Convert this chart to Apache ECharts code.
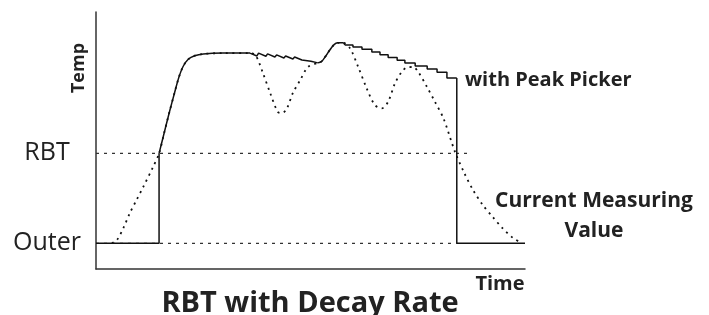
<!DOCTYPE html>
<html>
<head>
<meta charset="utf-8">
<title>RBT with Decay Rate</title>
<script src="https://cdn.jsdelivr.net/npm/echarts@6/dist/echarts.min.js"></script>
<style>
  html, body { margin: 0; padding: 0; background: #fff; }
  #main { width: 709px; height: 315px; }
</style>
</head>
<body>
<div id="main"></div>
<script>
// levels on the temp axis (0..100) and time axis (0..100)
var outerLevel = 10;
var rbtLevel = 45;
var yLabels = { 10: 'Outer', 45: 'RBT' };

// peak picker (solid line), split into pieces
var peakStepUp = [[0, 10], [14.7, 10], [14.7, 45]];
var peakRise = [[14.7, 45], [15.9, 53], [17.1, 61], [18.3, 68.5], [19.3, 74.5], [20.3, 78.8], [21.5, 81.6],
  [23, 83], [25, 83.7], [29.6, 84], [35.9, 84]];
var peakSaw = [[35.9, 84], [37.5, 82.9], [37.9, 84.0], [39.6, 82.8], [40.0, 83.7], [41.7, 82.5], [42.1, 83.3],
  [43.8, 82.1], [44.2, 82.9], [45.9, 81.7], [46.3, 82.5], [48.0, 81.3], [48.4, 82.0], [50.1, 80.8],
  [50.5, 81.4], [51.7, 80.2]];
var peakBump = [[51.7, 80.2], [52.6, 80.8], [53.4, 82.5], [54.5, 85.2], [55.5, 87.3], [56.3, 88],
  [57.6, 88], [58.0, 87.2]];
var peakStairs = [[58.0, 87.2], [59.9, 86.4], [62.0, 85.5], [64.3, 84.4], [66.2, 83.4], [68.1, 82.3],
  [70.2, 81.2], [72.0, 80.2], [74.4, 79.0], [77.2, 77.8], [79.5, 76.6], [81.8, 74.3], [84.1, 74.3]];
var peakDrop = [[84.1, 74.3], [84.1, 10], [100, 10]];

// current measuring value (dotted line)
var current = [[3.7, 10], [4.9, 11.3], [6.4, 16], [7.9, 21.8], [9.5, 27], [11.0, 31.9], [13.3, 39.7],
  [14.7, 45], [15.9, 53], [17.1, 61], [18.3, 68.5], [19.3, 74.5], [20.3, 78.8], [21.5, 81.6], [23, 83],
  [25, 83.7], [29.6, 84], [35.9, 84], [37.2, 83.2], [38.9, 76.3], [40.6, 68.5], [42.4, 61.1], [43.4, 60.7],
  [44.5, 62.5], [45.9, 68.5], [47.6, 73.5], [49.4, 78.6], [51.7, 80.2], [52.6, 80.8], [53.4, 82.5],
  [54.5, 85.2], [55.5, 87.3], [56.3, 88], [57.6, 88], [59.2, 85.9], [61.1, 78.7], [63.1, 70.3],
  [65.0, 63.8], [66.6, 62.5], [68.1, 65.1], [69.7, 72.3], [71.3, 76.8], [72.4, 78.4], [73.9, 78.6],
  [75.1, 76.7], [77.1, 71], [79, 65.1], [81, 58.6], [83.7, 45.5], [85.8, 37.5], [87.9, 30.7],
  [90.2, 24.8], [92.5, 20.2], [94.8, 15.8], [97.2, 12.1], [98.8, 10.5]];

// dotted reference lines
var rbtLine = [[0, rbtLevel], [87.6, rbtLevel]];
var outerLine = [[0, outerLevel], [84.1, outerLevel]];

var font = '"Open Sans", "Noto Sans", sans-serif';
var solid = { color: '#111', width: 1.5 };

function solidSeries(data, opts) {
  var s = { type: 'line', data: data, symbol: 'none', lineStyle: solid, z: 3 };
  for (var k in opts) s[k] = opts[k];
  return s;
}

var chart = echarts.init(document.getElementById('main'));
chart.setOption({
  animation: false,
  backgroundColor: '#fff',
  title: {
    text: 'RBT with Decay Rate',
    left: 305, textAlign: 'center', top: 284,
    textStyle: { fontFamily: font, fontWeight: 'bold', fontSize: 29, color: '#222' }
  },
  grid: { left: 96, right: 184, top: 12, bottom: 46 },
  xAxis: {
    type: 'value', min: 0, max: 100,
    axisLine: { lineStyle: { color: '#333', width: 1.5 } },
    axisTick: { show: false }, axisLabel: { show: false }, splitLine: { show: false }
  },
  yAxis: {
    type: 'value', min: 0, max: 100, interval: 5,
    axisLine: { show: true, lineStyle: { color: '#333', width: 1.5 } },
    axisTick: { show: false }, splitLine: { show: false },
    axisLabel: {
      margin: 49, align: 'center', fontFamily: font, fontSize: 25, color: '#222',
      formatter: function (v) { return yLabels[v] || ''; }
    }
  },
  graphic: [
    { type: 'text', x: 79, y: 68, rotation: Math.PI / 2,
      style: { text: 'Temp', font: 'bold 18px ' + font, fill: '#222', align: 'center', verticalAlign: 'middle' } },
    { type: 'text', x: 465, y: 80,
      style: { text: 'with Peak Picker', font: 'bold 20px ' + font, fill: '#222', verticalAlign: 'middle' } },
    { type: 'text', x: 594, y: 216,
      style: { text: 'Current Measuring\nValue', font: 'bold 21px ' + font, lineHeight: 30, fill: '#222',
        align: 'center', verticalAlign: 'middle' } },
    { type: 'text', x: 500, y: 284,
      style: { text: 'Time', font: 'bold 20px ' + font, fill: '#222', align: 'center', verticalAlign: 'middle' } }
  ],
  series: [
    { type: 'line', data: rbtLine, symbol: 'none', z: 1,
      lineStyle: { color: '#333', width: 1.3, type: [3, 5] } },
    { type: 'line', data: outerLine, symbol: 'none', z: 1,
      lineStyle: { color: '#333', width: 1.3, type: [3, 5] } },
    { type: 'line', data: current, symbol: 'none', smooth: 0.3, z: 2,
      lineStyle: { color: '#111', width: 1.8, type: [2, 4.5] } },
    solidSeries(peakStepUp, {}),
    solidSeries(peakRise, { smooth: 0.25 }),
    solidSeries(peakSaw, {}),
    solidSeries(peakBump, { smooth: 0.4 }),
    solidSeries(peakStairs, { step: 'end' }),
    solidSeries(peakDrop, {})
  ]
});
</script>
</body>
</html>
